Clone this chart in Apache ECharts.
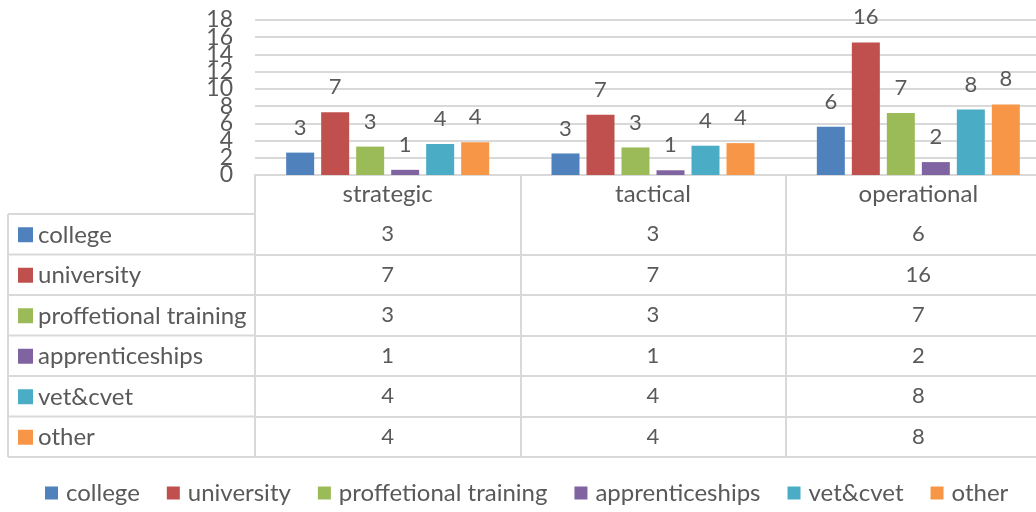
<!DOCTYPE html>
<html>
<head>
<meta charset="utf-8">
<script src="https://cdn.jsdelivr.net/npm/echarts@6/dist/echarts.min.js"></script>
<style>
  html, body { margin: 0; padding: 0; background: #fff; }
  #chart { width: 1036px; height: 512px; }
</style>
</head>
<body>
<div id="chart"></div>
<script>
// categories and series
const categories = ['strategic', 'tactical', 'operational']
const seriesNames = ['college', 'university', 'proffetional training', 'apprenticeships', 'vet&cvet', 'other']
const colors = ['#4F81BD', '#C0504D', '#9BBB59', '#8064A2', '#4BACC6', '#F79646']

// bar heights
const college = [2.6, 2.5, 5.6]
const university = [7.3, 7.0, 15.4]
const training = [3.3, 3.2, 7.2]
const apprenticeships = [0.6, 0.55, 1.5]
const vetCvet = [3.6, 3.4, 7.6]
const other = [3.8, 3.7, 8.2]
const barValues = [college, university, training, apprenticeships, vetCvet, other]

// values shown in the labels and the data table
const collegeShown = [3, 3, 6]
const universityShown = [7, 7, 16]
const trainingShown = [3, 3, 7]
const apprenticeshipsShown = [1, 1, 2]
const vetCvetShown = [4, 4, 8]
const otherShown = [4, 4, 8]
const shownValues = [collegeShown, universityShown, trainingShown, apprenticeshipsShown, vetCvetShown, otherShown]

const yTicks = [0, 2, 4, 6, 8, 10, 12, 14, 16, 18]
// ticks echarts hides next to forced min/max labels; drawn by a second axis
const yTicksNearEnds = [yTicks[1], yTicks[yTicks.length - 2]]

const FONT = 'Lato'
const TEXT = '#595959'
const LINE = '#d9d9d9'

// table layout
const plotBottom = 175
const tableTop = 214
const rowH = 40.5
const leftX = 8
const colX = 255

const chart = echarts.init(document.getElementById('chart'))

// main category axis + one axis per table row
const xAxes = [{
  type: 'category',
  data: categories,
  position: 'bottom',
  axisLine: { show: true, lineStyle: { color: LINE, width: 2 } },
  axisTick: { show: true, length: tableTop + rowH * 6 - plotBottom, lineStyle: { color: LINE, width: 2 } },
  axisLabel: { fontFamily: FONT, fontSize: 24, color: TEXT, margin: 7 }
}]
shownValues.forEach((row, i) => {
  xAxes.push({
    type: 'category',
    data: categories,
    position: 'bottom',
    offset: tableTop - plotBottom + rowH * i,
    axisLine: { show: true, lineStyle: { color: LINE, width: 2 } },
    axisTick: { show: false },
    axisPointer: { show: false },
    axisLabel: {
      fontFamily: FONT, fontSize: 22, color: TEXT, margin: 9,
      formatter: (v, idx) => String(row[idx])
    }
  })
})

const yBase = {
  type: 'value',
  position: 'left',
  min: yTicks[0],
  max: yTicks[yTicks.length - 1],
  interval: 2,
  axisLine: { show: false },
  axisTick: { show: false }
}
const yLabelStyle = { fontFamily: FONT, fontSize: 23, color: TEXT, margin: 22, hideOverlap: false }

const yAxes = [
  Object.assign({}, yBase, {
    axisLabel: Object.assign({}, yLabelStyle, { showMinLabel: true, showMaxLabel: true }),
    splitLine: { lineStyle: { color: LINE, width: 2 } }
  }),
  Object.assign({}, yBase, {
    axisLabel: Object.assign({}, yLabelStyle, {
      formatter: v => (yTicksNearEnds.indexOf(v) >= 0 ? String(v) : '')
    }),
    splitLine: { show: false }
  })
]

// left column of the table: row borders, colour keys and names
const graphics = []
for (let i = 0; i <= 6; i++) {
  const y = tableTop + rowH * i
  graphics.push({
    type: 'line',
    shape: { x1: leftX, y1: y, x2: i === 6 ? 1036 : colX, y2: y },
    style: { stroke: LINE, lineWidth: 2 }
  })
}
graphics.push({
  type: 'line',
  shape: { x1: leftX, y1: tableTop, x2: leftX, y2: tableTop + rowH * 6 },
  style: { stroke: LINE, lineWidth: 2 }
})
seriesNames.forEach((name, i) => {
  const cy = tableTop + rowH * i + rowH / 2
  graphics.push({
    type: 'rect',
    shape: { x: 18, y: cy - 7, width: 15, height: 15 },
    style: { fill: colors[i] }
  })
  graphics.push({
    type: 'text',
    x: 38, y: cy + 1,
    style: { text: name, fontFamily: FONT, fontSize: 24, fill: TEXT, verticalAlign: 'middle' }
  })
})

const option = {
  animation: false,
  color: colors,
  grid: { left: colX, width: 796, top: 20, bottom: 512 - plotBottom, outerBoundsMode: 'none' },
  legend: {
    bottom: 2,
    left: 40,
    itemWidth: 13,
    itemHeight: 13,
    itemGap: 27,
    icon: 'rect',
    data: seriesNames,
    textStyle: { fontFamily: FONT, fontSize: 24, color: TEXT, padding: [0, 0, 0, 3] }
  },
  xAxis: xAxes,
  yAxis: yAxes,
  series: seriesNames.map((name, i) => ({
    name: name,
    type: 'bar',
    xAxisIndex: 0,
    yAxisIndex: 0,
    barWidth: 28,
    barGap: '25%',
    data: barValues[i],
    label: {
      show: true,
      position: 'top',
      distance: 14,
      fontFamily: FONT,
      fontSize: 22,
      color: TEXT,
      formatter: p => String(shownValues[i][p.dataIndex])
    }
  })),
  graphic: graphics
}

chart.setOption(option)
</script>
</body>
</html>
